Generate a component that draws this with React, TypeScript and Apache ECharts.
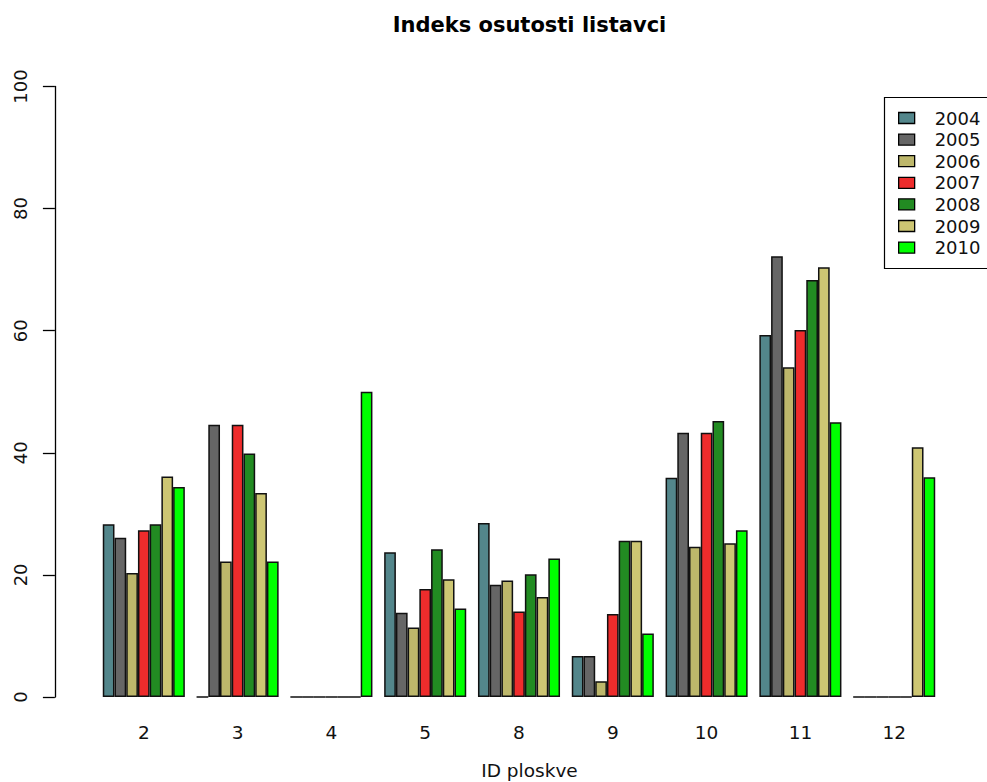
import React, { useEffect, useRef } from "react";
import * as echarts from "echarts";

const categories = ["2", "3", "4", "5", "8", "9", "10", "11", "12"];
const years = ["2004", "2005", "2006", "2007", "2008", "2009", "2010"];
const v2004 = [28.3, 0, 0, 23.7, 28.5, 6.7, 35.9, 59.3, 0];
const v2005 = [26.1, 44.6, 0, 13.8, 18.4, 6.7, 43.3, 72.2, 0];
const v2006 = [20.3, 22.2, 0, 11.4, 19.1, 2.6, 24.6, 54.0, 0];
const v2007 = [27.3, 44.6, 0, 17.7, 14.0, 13.6, 43.3, 60.1, 0];
const v2008 = [28.3, 39.9, 0, 24.2, 20.1, 25.6, 45.2, 68.3, 0];
const v2009 = [36.1, 33.4, 0, 19.3, 16.4, 25.6, 25.2, 70.4, 40.9];
const v2010 = [34.4, 22.2, 50.0, 14.5, 22.7, 10.4, 27.3, 45.0, 36.0];
const yTicks = [0, 20, 40, 60, 80, 100];
const seriesValues = [v2004, v2005, v2006, v2007, v2008, v2009, v2010];
const colors = ["#53868B", "#666666", "#BDB76B", "#EE2C2C", "#228B22", "#CDC673", "#00FF00"];

const FONT = "'DejaVu Sans', Verdana, sans-serif";

export default function App() {
  const ref = useRef<HTMLDivElement>(null);
  useEffect(() => {
    if (!ref.current) return;
    const chart = echarts.init(ref.current, undefined, { renderer: "svg" });
    chart.setOption({
      animation: false,
      backgroundColor: "#ffffff",
      textStyle: { fontFamily: FONT },
      grid: { left: 96.9, right: 45.9, top: 86.5, bottom: 85, containLabel: false },
      legend: {
        data: years,
        orient: "vertical",
        left: 898,
        top: 109,
        padding: 0,
        itemWidth: 16,
        itemHeight: 11,
        itemGap: 3.6,
        icon: "rect",
        itemStyle: { borderColor: "#000", borderWidth: 1.3 },
        textStyle: { fontFamily: FONT, fontSize: 18, color: "#111", lineHeight: 18, padding: [0, 0, 0, 15] },
      },
      graphic: [
        {
          type: "rect",
          shape: { x: 884.5, y: 97.5, width: 110, height: 171 },
          style: { fill: "none", stroke: "#000", lineWidth: 1.2 },
          z: 100,
        },
        {
          type: "text",
          x: 529.5,
          y: 25,
          style: {
            text: "Indeks osutosti listavci",
            fontFamily: FONT,
            fontWeight: "bold",
            fontSize: 21,
            fill: "#000",
            textAlign: "center",
            textVerticalAlign: "middle",
          },
        },
        {
          type: "text",
          x: 529.5,
          y: 770,
          style: {
            text: "ID ploskve",
            fontFamily: FONT,
            fontSize: 18.5,
            fill: "#111",
            textAlign: "center",
            textVerticalAlign: "middle",
          },
        },
      ],
      xAxis: {
        type: "category",
        data: categories,
        axisLine: { show: false },
        axisTick: { show: false },
        axisLabel: { margin: 26, fontSize: 18.5, color: "#111", fontFamily: FONT },
      },
      yAxis: {
        type: "value",
        min: 0,
        max: 100,
        interval: 20,
        offset: 42,
        axisLine: { show: true, lineStyle: { color: "#000", width: 1.3 } },
        axisTick: { show: true, length: 12, lineStyle: { color: "#000", width: 1.3 } },
        splitLine: { show: false },
        axisLabel: {
          rotate: 90,
          margin: 25,
          fontSize: 18,
          color: "#111",
          fontFamily: FONT,
          formatter: (v: number) => (yTicks.includes(v) ? String(v) : ""),
        },
      },
      series: years.map((y, i) => ({
        name: y,
        type: "bar",
        data: seriesValues[i],
        barGap: "0%",
        barCategoryGap: "12.5%",
        itemStyle: { color: colors[i], borderColor: "#111", borderWidth: 1.5 },
      })),
    });
    return () => chart.dispose();
  }, []);
  return (
    <div
      ref={ref}
      style={{ position: "fixed", left: 0, top: 0, width: 987, height: 782, background: "#fff" }}
    />
  );
}
